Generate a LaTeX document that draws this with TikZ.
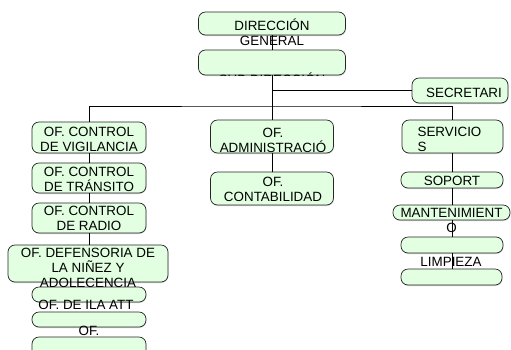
\documentclass[tikz,border=0pt]{standalone}
\usepackage{fontspec}
\setmainfont{Liberation Sans}
\usetikzlibrary{shadows}
\definecolor{verdeclaro}{RGB}{226,255,226}

\begin{document}
\begin{tikzpicture}[x=1pt,y=-1pt,
  unidad/.style={draw=black!85, line width=0.7pt, rounded corners=7pt, fill=verdeclaro,
    inner sep=0pt, drop shadow={shadow xshift=0.4pt, shadow yshift=-1pt, fill=black!35}},
  rotulo/.style={align=center, inner sep=0pt, font=\fontsize{13.4}{15}\selectfont},
  linea/.style={line width=0.6pt, black}]
\useasboundingbox (0,0) rectangle (511,349);

% boxes
\node[unidad, minimum width=147pt, minimum height=23pt] (dg) at (272,23.5) {};
\node[unidad, minimum width=147pt, minimum height=25pt] (subdir) at (272,62.5) {};
\node[unidad, minimum width=96pt, minimum height=25pt] (secr) at (460,90.5) {};

\node[unidad, minimum width=114pt, minimum height=31pt] (vigil) at (89,137.5) {};
\node[unidad, minimum width=114pt, minimum height=30pt] (transito) at (89,178) {};
\node[unidad, minimum width=114pt, minimum height=30pt] (radio) at (89,218) {};
\node[unidad, minimum width=160pt, minimum height=37pt] (defens) at (88,263.5) {};
\node[unidad, minimum width=114pt, minimum height=15pt] (att) at (89,294.5) {};
\node[unidad, minimum width=114pt, minimum height=15pt] (ofa) at (89,319.5) {};
\node[unidad, minimum width=114pt, minimum height=23pt] (ofb) at (89,348.5) {};

\node[unidad, minimum width=123pt, minimum height=33pt] (admin) at (272,136.5) {};
\node[unidad, minimum width=123pt, minimum height=33pt] (conta) at (272,188.5) {};

\node[unidad, minimum width=101pt, minimum height=33pt] (serv) at (452.5,136.5) {};
\node[unidad, minimum width=102pt, minimum height=16pt] (soporte) at (452,180) {};
\node[unidad, minimum width=117pt, minimum height=15pt] (mant) at (451.5,212.5) {};
\node[unidad, minimum width=102pt, minimum height=16pt] (limp) at (452,245) {};
\node[unidad, minimum width=101pt, minimum height=16pt] (servb) at (451.5,277) {};

% connectors
\coordinate (bus) at (272,106);
\draw[linea] (dg.south) -- (subdir.north);
\draw[linea] (subdir.south) -- (bus);
\draw[linea] (secr.west) -- (secr.west -| dg.south);
\draw[linea] (vigil.north) |- (bus) -| (serv.north);
\draw[linea] (bus) -- (admin.north);
\draw[linea] (vigil) -- (transito) -- (radio) -- (defens.north -| radio.south);
\draw[linea] (admin) -- (conta);
\draw[linea] (serv.south -| soporte.north) -- (soporte) -- (mant.north -| soporte.south);
\draw[linea] (mant.south -| limp.north) -- (limp) -- (servb.north -| limp.south);

% texts
\node[rotulo] (dgt) at (272,32) {DIRECCIÓN\\GENERAL};
\begin{scope}
  \clip[rounded corners=7pt] (subdir.south west) rectangle (subdir.north east);
  \node[rotulo] (subdirt) at (272,79) {SUB DIRECCIÓN};
\end{scope}
\node[rotulo] (secrt) at (464,93) {SECRETARI};
\node[rotulo] (vigilt) at (89,139) {OF. CONTROL\\DE VIGILANCIA};
\node[rotulo] (transitot) at (89,179.5) {OF. CONTROL\\DE TRÁNSITO};
\node[rotulo] (radiot) at (89,218.5) {OF. CONTROL\\DE RADIO};
\node[rotulo] (defenst) at (88,267.5) {OF. DEFENSORIA DE\\LA NIÑEZ Y\\ADOLECENCIA};
\node[rotulo] (attt) at (86,305) {OF. DE ILA ATT};
\node[rotulo] (ofat) at (89,331) {OF.};
\node[rotulo] (admint) at (273,140) {OF.\\ADMINISTRACIÓ};
\node[rotulo] (contat) at (273,189.5) {OF.\\CONTABILIDAD};
\node[rotulo, align=left] (servt) at (449.5,139.5) {SERVICIO\\S};
\node[rotulo] (soportet) at (452,180.5) {SOPORT};
\node[rotulo] (mantt) at (451.5,220) {MANTENIMIENT\\O};
\node[rotulo] (limpt) at (451,261.5) {LIMPIEZA};
\end{tikzpicture}
\end{document}
